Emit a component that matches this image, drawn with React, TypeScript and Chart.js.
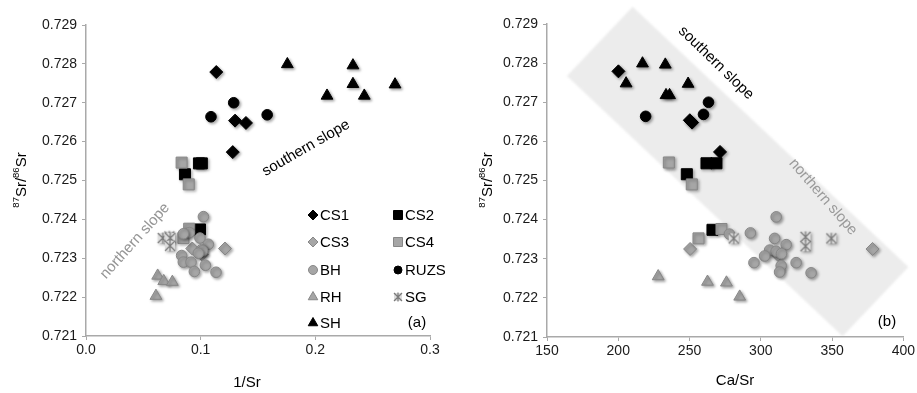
import React, { useEffect, useRef } from 'react';
import { Chart, registerables } from 'chart.js';
Chart.register(...registerables);

// ---------------- data ----------------
const SERIES = ['CS1', 'CS2', 'CS3', 'CS4', 'BH', 'RUZS', 'RH', 'SG', 'SH'];

const cs1Ratio = [0.72779, 0.72654, 0.72648, 0.72573];
const cs1InvSr = [0.1136, 0.130, 0.1395, 0.128];
const cs1CaSr = [200.1, 250.2, 251.8, 271.4];

const cs2Ratio = [0.72516, 0.72544, 0.72544, 0.72374];
const cs2InvSr = [0.0863, 0.0985, 0.101, 0.0994];
const cs2CaSr = [248.1, 261.9, 268.9, 266.1];

const cs3Ratio = [0.72325, 0.72325, 0.7231];
const cs3InvSr = [0.0927, 0.1212, 0.101];
const cs3CaSr = [250.4, 378.4, 312];

const cs4Ratio = [0.72546, 0.7249, 0.72376, 0.72352];
const cs4InvSr = [0.0834, 0.0896, 0.090, 0.085];
const cs4CaSr = [235.5, 251.6, 272.4, 256.3];

const bhRatio = [0.72407, 0.72366, 0.72363, 0.72352, 0.72336, 0.72322, 0.72319, 0.72313, 0.72307, 0.7229, 0.7229, 0.72282, 0.72266, 0.72264];
const bhInvSr = [0.1024, 0.0901, 0.0849, 0.0994, 0.1067, 0.1008, 0.1017, 0.098, 0.0834, 0.0849, 0.0916, 0.1041, 0.0945, 0.1134];
const bhCaSr = [310.8, 292.7, 278, 309.7, 317.8, 306.2, 310.8, 314.5, 302.7, 295.2, 324.8, 314.3, 313.2, 335.3];

const ruzsRatio = [0.72664, 0.727, 0.72669];
const ruzsInvSr = [0.109, 0.1288, 0.158];
const ruzsCaSr = [219.2, 263.3, 259.8];

const rhRatio = [0.72255, 0.72241, 0.72239, 0.72203];
const rhInvSr = [0.0625, 0.0678, 0.0753, 0.061];
const rhCaSr = [228, 262.6, 275.9, 285.2];

const sgRatio = [0.72352, 0.72356, 0.72352, 0.72332];
const sgInvSr = [0.0669, 0.0727, 0.0735, 0.0733];
const sgCaSr = [281, 331.4, 349.5, 331.4];

const shRatio = [0.72799, 0.72796, 0.72718, 0.72748, 0.72718, 0.72747];
const shInvSr = [0.1756, 0.2328, 0.2102, 0.2328, 0.2427, 0.2695];
const shCaSr = [217, 233, 233.5, 205.5, 236, 249];

const Y_TICKS = [0.721, 0.722, 0.723, 0.724, 0.725, 0.726, 0.727, 0.728, 0.729];
const Y_TICK_LABELS = ['0.721', '0.722', '0.723', '0.724', '0.725', '0.726', '0.727', '0.728', '0.729'];
const X1_TICKS = [0, 0.1, 0.2, 0.3];
const X1_TICK_LABELS = ['0.0', '0.1', '0.2', '0.3'];
const X2_TICKS = [150, 200, 250, 300, 350, 400];
const X2_TICK_LABELS = ['150', '200', '250', '300', '350', '400'];

// grey band (panel b), corners in data units (Ca/Sr, ratio)
const BAND_X = [210.1, 403.6, 357.4, 164.0];
const BAND_Y = [0.72944, 0.72279, 0.72102, 0.72767];

const LEGEND_COL1 = ['CS1', 'CS3', 'BH', 'RH', 'SH'];
const LEGEND_COL2 = ['CS2', 'CS4', 'RUZS', 'SG'];

// ---------------- styles ----------------
const FONT = '"Liberation Sans", Arial, Helvetica, sans-serif';
const BLACK = '#000000';
const GREY_FILL = '#a6a6a6';
const GREY_LINE = '#878787';
const AXIS_COLOR = '#a9a9a9';
const TICK_COLOR = '#1a1a1a';

type Style = { shape: string; fill: string; line: string; r: number; lr: number };
const STYLES: Record<string, Style> = {
  CS1: { shape: 'rectRot', fill: BLACK, line: BLACK, r: 6.5, lr: 5 },
  CS2: { shape: 'rect', fill: BLACK, line: BLACK, r: 7.8, lr: 4.5 },
  CS3: { shape: 'rectRot', fill: GREY_FILL, line: GREY_LINE, r: 6.5, lr: 5 },
  CS4: { shape: 'rect', fill: GREY_FILL, line: GREY_LINE, r: 7.8, lr: 4.5 },
  BH: { shape: 'circle', fill: GREY_FILL, line: GREY_LINE, r: 5.3, lr: 4.5 },
  RUZS: { shape: 'circle', fill: BLACK, line: BLACK, r: 5.3, lr: 4 },
  RH: { shape: 'triangle', fill: GREY_FILL, line: GREY_LINE, r: 6.8, lr: 5.5 },
  SG: { shape: 'star', fill: '#dcdcdc', line: '#7f7f7f', r: 6, lr: 5 },
  SH: { shape: 'triangle', fill: BLACK, line: BLACK, r: 6.8, lr: 5.5 },
};

const RATIO: Record<string, number[]> = { CS1: cs1Ratio, CS2: cs2Ratio, CS3: cs3Ratio, CS4: cs4Ratio, BH: bhRatio, RUZS: ruzsRatio, RH: rhRatio, SG: sgRatio, SH: shRatio };
const INV_SR: Record<string, number[]> = { CS1: cs1InvSr, CS2: cs2InvSr, CS3: cs3InvSr, CS4: cs4InvSr, BH: bhInvSr, RUZS: ruzsInvSr, RH: rhInvSr, SG: sgInvSr, SH: shInvSr };
const CA_SR: Record<string, number[]> = { CS1: cs1CaSr, CS2: cs2CaSr, CS3: cs3CaSr, CS4: cs4CaSr, BH: bhCaSr, RUZS: ruzsCaSr, RH: rhCaSr, SG: sgCaSr, SH: shCaSr };

function makeStarCanvas(size: number, a: number) {
  const c = document.createElement('canvas');
  c.width = size;
  c.height = size;
  const g = c.getContext('2d')!;
  const h = size / 2;
  g.fillStyle = '#dddddd';
  g.fillRect(h - a, h - a, 2 * a, 2 * a);
  g.strokeStyle = '#7a7a7a';
  g.lineWidth = 1.2;
  g.beginPath();
  g.moveTo(h - a, h - a); g.lineTo(h + a, h + a);
  g.moveTo(h + a, h - a); g.lineTo(h - a, h + a);
  g.moveTo(h, h - a - 0.5); g.lineTo(h, h + a + 0.5);
  g.stroke();
  return c;
}

function buildDatasets(xs: Record<string, number[]>, star: HTMLCanvasElement) {
  return SERIES.map((name, idx) => {
    const st = STYLES[name];
    const ys = RATIO[name];
    const xv = xs[name];
    return {
      label: name,
      data: ys.map((y, i) => ({ x: xv[i], y })),
      order: SERIES.length - idx,
      showLine: false,
      pointStyle: name === 'SG' ? star : st.shape,
      pointRadius: st.r,
      pointHoverRadius: st.r,
      pointBackgroundColor: st.fill,
      pointBorderColor: st.line,
      pointBorderWidth: 1,
      clip: false,
    };
  });
}

function drawMarker(ctx: CanvasRenderingContext2D, name: string, x: number, y: number, star: HTMLCanvasElement) {
  const st = STYLES[name];
  const r = st.lr;
  if (name === 'SG') {
    ctx.drawImage(star, x - star.width / 2, y - star.height / 2);
    return;
  }
  ctx.beginPath();
  if (st.shape === 'circle') ctx.arc(x, y, r, 0, Math.PI * 2);
  else if (st.shape === 'rect') ctx.rect(x - r, y - r, 2 * r, 2 * r);
  else if (st.shape === 'rectRot') {
    ctx.moveTo(x, y - r); ctx.lineTo(x + r, y); ctx.lineTo(x, y + r); ctx.lineTo(x - r, y); ctx.closePath();
  } else if (st.shape === 'triangle') {
    ctx.moveTo(x, y - r); ctx.lineTo(x + r * 0.866, y + r * 0.5); ctx.lineTo(x - r * 0.866, y + r * 0.5); ctx.closePath();
  }
  ctx.fillStyle = st.fill;
  ctx.fill();
  ctx.strokeStyle = st.line;
  ctx.lineWidth = 1;
  ctx.stroke();
}

function rotText(ctx: CanvasRenderingContext2D, text: string, x: number, y: number, deg: number, color: string, size: number) {
  ctx.save();
  ctx.translate(x, y);
  ctx.rotate((deg * Math.PI) / 180);
  ctx.fillStyle = color;
  ctx.font = `${size}px ${FONT}`;
  ctx.textAlign = 'center';
  ctx.textBaseline = 'middle';
  ctx.fillText(text, 0, 0);
  ctx.restore();
}

function yTitle(ctx: CanvasRenderingContext2D, cx: number, cy: number) {
  const parts: [string, boolean][] = [['87', true], ['Sr/', false], ['86', true], ['Sr', false]];
  const main = `15px ${FONT}`;
  const sup = `9.5px ${FONT}`;
  let total = 0;
  const widths = parts.map(([t, s]) => {
    ctx.font = s ? sup : main;
    const w = ctx.measureText(t).width;
    total += w;
    return w;
  });
  ctx.save();
  ctx.translate(cx, cy);
  ctx.rotate(-Math.PI / 2);
  ctx.fillStyle = '#000';
  ctx.textAlign = 'left';
  ctx.textBaseline = 'alphabetic';
  let x = -total / 2;
  parts.forEach(([t, s], i) => {
    ctx.font = s ? sup : main;
    ctx.fillText(t, x, s ? -1 : 5.5);
    x += widths[i];
  });
  ctx.restore();
}

function buildOptions(cfg: any) {
  const tickFont = { family: FONT, size: 14 };
  return {
    responsive: false,
    maintainAspectRatio: false,
    animation: false,
    events: [],
    layout: { padding: { left: 0, top: cfg.top, right: cfg.right, bottom: 0 } },
    plugins: { legend: { display: false }, tooltip: { enabled: false }, title: { display: false } },
    scales: {
      x: {
        type: 'linear',
        min: cfg.xMin,
        max: cfg.xMax,
        afterBuildTicks: (s: any) => { s.ticks = cfg.xTicks.map((v: number) => ({ value: v })); },
        afterFit: (s: any) => { s.height = cfg.xAxisHeight; },
        ticks: { callback: (_v: any, i: number) => cfg.xLabels[i], font: tickFont, color: TICK_COLOR, padding: 2, maxRotation: 0, autoSkip: false },
        grid: { display: true, drawOnChartArea: false, drawTicks: true, tickLength: 4, color: AXIS_COLOR, lineWidth: 1 },
        border: { display: true, color: AXIS_COLOR, width: 1.5 },
      },
      y: {
        type: 'linear',
        min: 0.721,
        max: 0.729,
        afterBuildTicks: (s: any) => { s.ticks = Y_TICKS.map((v) => ({ value: v })); },
        afterFit: (s: any) => { s.width = cfg.yAxisWidth; },
        ticks: { callback: (_v: any, i: number) => Y_TICK_LABELS[i], font: tickFont, color: TICK_COLOR, padding: 5, autoSkip: false },
        grid: { display: true, drawOnChartArea: false, drawTicks: true, tickLength: 4, color: AXIS_COLOR, lineWidth: 1 },
        border: { display: true, color: AXIS_COLOR, width: 1.5 },
      },
    },
  };
}

const shadowPlugin = {
  id: 'markerShadow',
  beforeDatasetsDraw(chart: any) {
    const c = chart.ctx;
    c.save();
    c.shadowColor = 'rgba(0,0,0,0.35)';
    c.shadowBlur = 3;
    c.shadowOffsetX = 1.5;
    c.shadowOffsetY = 1.5;
  },
  afterDatasetsDraw(chart: any) {
    chart.ctx.restore();
  },
};

export default function App() {
  const leftRef = useRef<HTMLCanvasElement>(null);
  const rightRef = useRef<HTMLCanvasElement>(null);

  useEffect(() => {
    const star = makeStarCanvas(14, 5);
    const legendStar = makeStarCanvas(12, 4);

    const leftPlugin = {
      id: 'leftAnno',
      afterDraw(chart: any) {
        const ctx = chart.ctx as CanvasRenderingContext2D;
        yTitle(ctx, 20, 180);
        ctx.save();
        ctx.fillStyle = '#000';
        ctx.font = `15px ${FONT}`;
        ctx.textAlign = 'center';
        ctx.textBaseline = 'middle';
        ctx.fillText('1/Sr', 247, 383);
        ctx.fillText('(a)', 417, 323);
        ctx.restore();
        rotText(ctx, 'southern slope', 306, 148, -30, '#000', 15);
        rotText(ctx, 'northern slope', 135, 241, -48, '#959595', 15);
        const rows = [215, 242, 270, 297, 323];
        ctx.save();
        ctx.font = `15px ${FONT}`;
        ctx.textAlign = 'left';
        ctx.textBaseline = 'middle';
        LEGEND_COL1.forEach((n, i) => {
          drawMarker(ctx, n, 313, rows[i], legendStar);
          ctx.fillStyle = '#000';
          ctx.fillText(n, 320, rows[i] + 1);
        });
        LEGEND_COL2.forEach((n, i) => {
          drawMarker(ctx, n, 398, rows[i], legendStar);
          ctx.fillStyle = '#000';
          ctx.fillText(n, 405, rows[i] + 1);
        });
        ctx.restore();
      },
    };

    const rightPlugin = {
      id: 'rightAnno',
      beforeDraw(chart: any) {
        const ctx = chart.ctx as CanvasRenderingContext2D;
        const xs = chart.scales.x;
        const ys = chart.scales.y;
        ctx.save();
        ctx.fillStyle = '#ececec';
        ctx.filter = 'blur(1px)';
        ctx.beginPath();
        BAND_X.forEach((bx, i) => {
          const px = xs.getPixelForValue(bx);
          const py = ys.getPixelForValue(BAND_Y[i]);
          if (i === 0) ctx.moveTo(px, py);
          else ctx.lineTo(px, py);
        });
        ctx.closePath();
        ctx.fill();
        ctx.restore();
      },
      afterDraw(chart: any) {
        const ctx = chart.ctx as CanvasRenderingContext2D;
        yTitle(ctx, 26, 180);
        ctx.save();
        ctx.fillStyle = '#000';
        ctx.font = `15px ${FONT}`;
        ctx.textAlign = 'center';
        ctx.textBaseline = 'middle';
        ctx.fillText('Ca/Sr', 275, 381);
        ctx.fillText('(b)', 427, 322);
        ctx.restore();
        rotText(ctx, 'southern slope', 256, 63, 44, '#000', 15);
        rotText(ctx, 'northern slope', 363, 197, 49, '#9a9a9a', 15);
      },
    };

    const left = new Chart(leftRef.current!, {
      type: 'scatter',
      data: { datasets: buildDatasets(INV_SR, star) as any },
      options: buildOptions({ xMin: 0, xMax: 0.3, xTicks: X1_TICKS, xLabels: X1_TICK_LABELS, top: 25, right: 30, xAxisHeight: 57, yAxisWidth: 86 }) as any,
      plugins: [shadowPlugin, leftPlugin],
    });
    const right = new Chart(rightRef.current!, {
      type: 'scatter',
      data: { datasets: buildDatasets(CA_SR, star) as any },
      options: buildOptions({ xMin: 150, xMax: 400, xTicks: X2_TICKS, xLabels: X2_TICK_LABELS, top: 24, right: 13, xAxisHeight: 56, yAxisWidth: 87 }) as any,
      plugins: [shadowPlugin, rightPlugin],
    });
    return () => {
      left.destroy();
      right.destroy();
    };
  }, []);

  return (
    <div style={{ position: 'fixed', left: 0, top: 0, width: 917, height: 393, background: '#fff', overflow: 'hidden' }}>
      <canvas ref={leftRef} width={460} height={393} style={{ position: 'absolute', left: 0, top: 0, width: 460, height: 393 }} />
      <canvas ref={rightRef} width={457} height={393} style={{ position: 'absolute', left: 460, top: 0, width: 457, height: 393 }} />
    </div>
  );
}
